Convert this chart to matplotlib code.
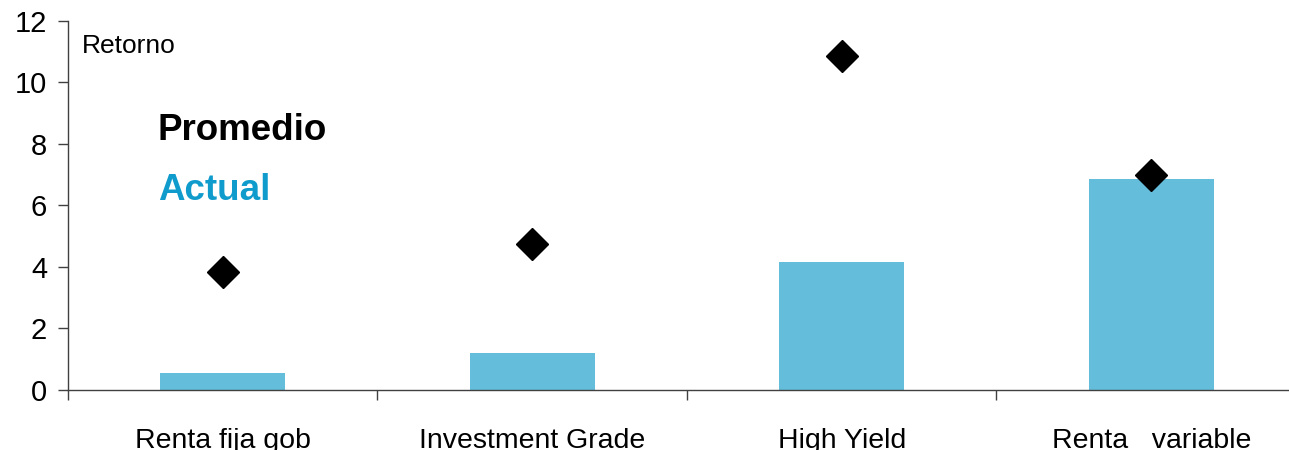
import matplotlib
matplotlib.use("Agg")
import matplotlib.pyplot as plt
import numpy as np

categories = ["Renta fija gob", "Investment Grade", "High Yield", "Renta   variable"]
actual = [0.55, 1.21, 4.16, 6.86]
promedio = [3.84, 4.73, 10.85, 6.98]
yticks = [0, 2, 4, 6, 8, 10, 12]

plt.rcParams['font.family'] = ['Liberation Sans', 'DejaVu Sans']

fig = plt.figure(figsize=(12.89, 4.5), dpi=100)
ax = fig.add_axes([68/1289, 60/450, 1238/1289, 369.3/450])

x = np.arange(len(categories))
ax.bar(x, actual, width=0.404, color='#65BDDC', zorder=2)
ax.plot(x, promedio, linestyle='none', marker='D', markersize=16, color='black', zorder=3)

ax.set_xlim(-0.5, len(categories) - 0.5)
ax.set_ylim(0, 12)
ax.set_yticks(yticks)
ax.set_yticklabels([str(v) for v in yticks], fontsize=21)

ax.set_xticks(x)
ax.set_xticklabels(categories, fontsize=20.5)
ax.set_xticks(np.arange(-0.5, len(categories), 1.0), minor=True)
ax.tick_params(axis='x', which='major', length=0, pad=27)
ax.tick_params(axis='x', which='minor', length=7, color='#404040', width=1)
ax.tick_params(axis='y', length=7, color='#404040', width=1, pad=8)

for s in ['top', 'right']:
    ax.spines[s].set_visible(False)
for s in ['left', 'bottom']:
    ax.spines[s].set_color('#404040')
    ax.spines[s].set_linewidth(1)

fig.text(82/1289, 1 - 46/450, "Retorno", fontsize=19, va='center', ha='left', color='black')
fig.text(158/1289, 1 - 130/450, "Promedio", fontsize=26.5, fontweight='bold', va='center', ha='left', color='black')
fig.text(158/1289, 1 - 190/450, "Actual", fontsize=26.5, fontweight='bold', va='center', ha='left', color='#0F9BCB')

fig.savefig("out.png", dpi=100)
